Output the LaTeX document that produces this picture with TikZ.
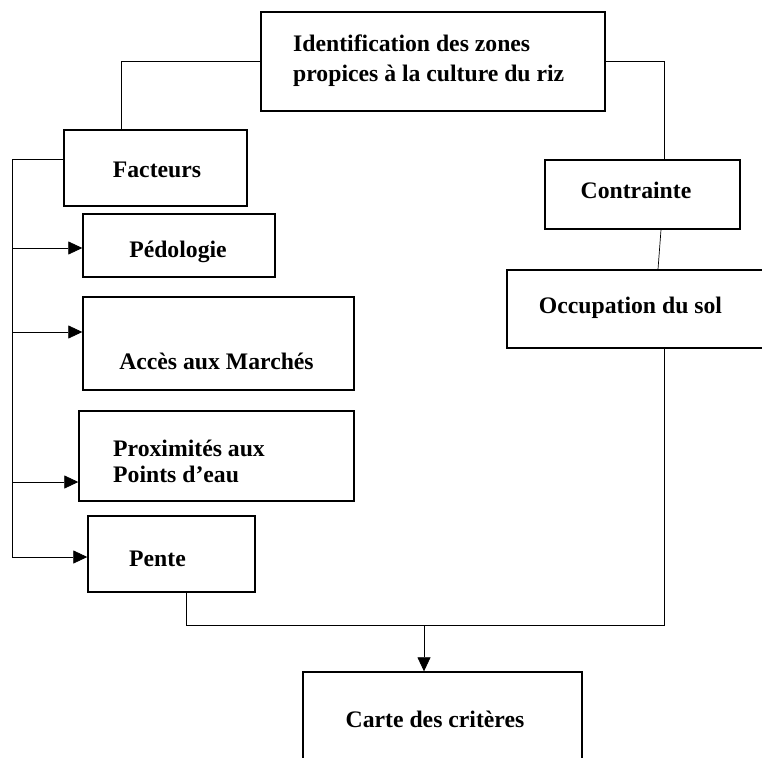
\documentclass[tikz,border=0pt]{standalone}
\usepackage{fontspec}
\setmainfont{Liberation Serif}
\usetikzlibrary{arrows.meta,calc}
\begin{document}
\begin{tikzpicture}[x=1pt,y=-1pt,
  box/.style={draw,line width=1.4pt,rectangle,inner sep=0pt},
  lbl/.style={inner sep=0pt,font=\fontsize{23.7}{30}\selectfont\bfseries},
  conn/.style={line width=0.7pt},
  arr/.style={conn,-{Triangle[length=14pt,width=13pt]}}]
\useasboundingbox (0,0) rectangle (762,757);
\clip (0,0) rectangle (762,757);
% boxes
\node[box,minimum width=344pt,minimum height=99pt] (top) at (433,61.5) {};
\node[box,minimum width=183pt,minimum height=76pt] (fac) at (155.5,168) {};
\node[box,minimum width=192pt,minimum height=63pt] (ped) at (179,245.5) {};
\node[box,minimum width=271pt,minimum height=93pt] (acc) at (218.5,343.5) {};
\node[box,minimum width=275pt,minimum height=90pt] (pro) at (216.5,456) {};
\node[box,minimum width=167pt,minimum height=76pt] (pen) at (171.5,554) {};
\node[box,minimum width=279pt,minimum height=120pt] (car) at (442.5,732) {};
\node[box,minimum width=195pt,minimum height=69pt] (con) at (642.5,194.5) {};
\node[box,minimum width=268pt,minimum height=78pt] (occ) at (641,309) {};
% texts
\node[lbl,anchor=base west,align=left] (ttop) at (293,82) {Identification des zones\\propices à la culture du riz};
\node[lbl,anchor=base] (tfac) at (157,177) {Facteurs};
\node[lbl,anchor=base] (tped) at (178,257) {Pédologie};
\node[lbl,anchor=base] (tacc) at (216.5,369) {Accès aux Marchés};
\node[lbl,anchor=base west,align=left,font=\fontsize{23.7}{26}\selectfont\bfseries] (tpro) at (113,482) {Proximités aux\\Points d’eau};
\node[lbl,anchor=base west] (tpen) at (129,566) {Pente};
\node[lbl,anchor=base] (tcar) at (435,727) {Carte des critères};
\node[lbl,anchor=base] (tcon) at (636,198) {Contrainte};
\node[lbl,anchor=base] (tocc) at (630.5,313) {Occupation du sol};
% connectors
\coordinate (bus) at (12,159);
\coordinate (busend) at (12,557);
\coordinate (join) at (186,625);
\coordinate (cn) at ($(car.north)+(-18.5,0)$);
\draw[conn] (top.west) -| ($(fac.north)+(-34.5,0)$);
\draw[conn] (top.east) -| ($(con.north)+(21.5,0)$);
\draw[conn] ($(con.south)+(18.5,0)$) -- ($(occ.north)+(17,0)$);
\draw[conn] ($(fac.west)+(0,-9)$) -- (bus) -- (busend);
\draw[arr] (bus |- 0,248) -- (ped.west |- 0,248);
\draw[arr] (bus |- 0,332) -- (acc.west |- 0,332);
\draw[arr] (bus |- 0,482) -- (pro.west |- 0,482);
\draw[arr] (busend) -- (pen.west |- busend);
\draw[conn] ($(pen.south)+(14.5,0)$) -- (join) -- (join -| 664,0) -- ($(occ.south)+(23,0)$);
\draw[arr] (cn |- join) -- (cn);
\end{tikzpicture}
\end{document}
